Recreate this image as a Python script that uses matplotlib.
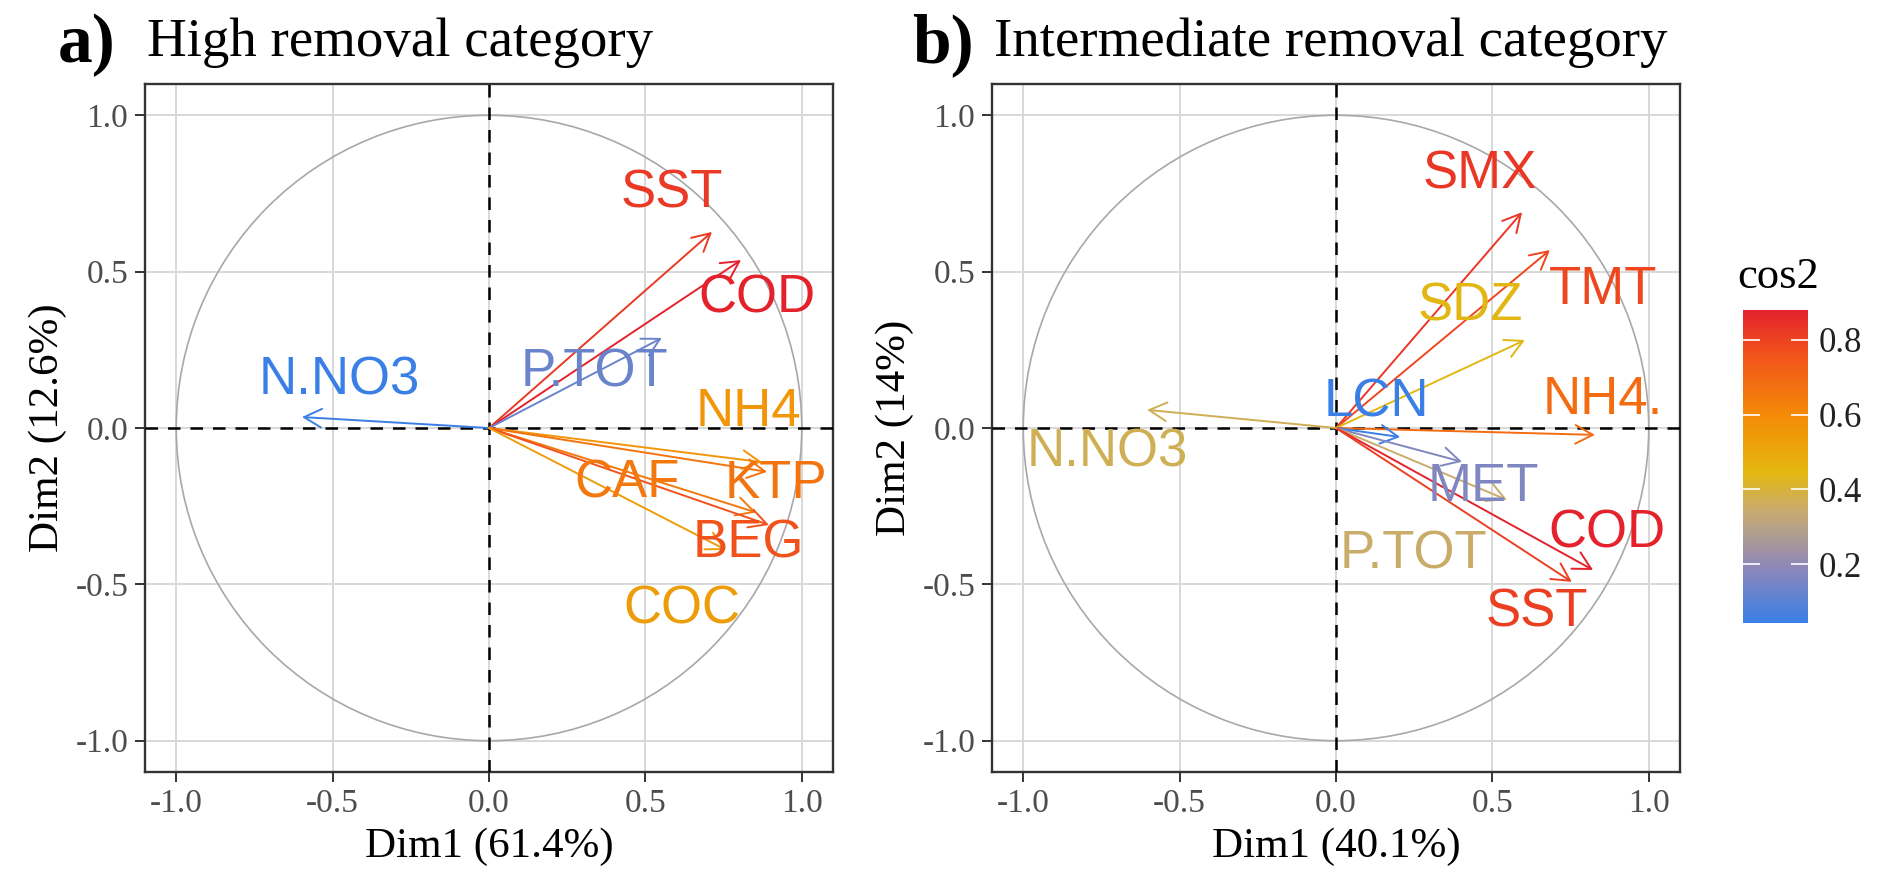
import numpy as np
import matplotlib
matplotlib.use("Agg")
import matplotlib.pyplot as plt
from matplotlib.colors import LinearSegmentedColormap, Normalize
from matplotlib.patches import Circle
import matplotlib.colorbar as mcolorbar

plt.rcParams["axes.unicode_minus"] = False

SERIF = "Liberation Serif"
SANS = "Liberation Sans"

# ---- panel a: high removal category ----
vars_a = ["SST", "COD", "P.TOT", "N.NO3", "NH4", "KTP", "CAF", "BEG", "COC"]
dim1_a = [0.713, 0.806, 0.553, -0.598, 0.873, 0.889, 0.854, 0.895, 0.758]
dim2_a = [0.627, 0.537, 0.288, 0.035, -0.109, -0.140, -0.270, -0.310, -0.390]
cos2_a = [0.90, 0.94, 0.42, 0.36, 0.72, 0.79, 0.78, 0.86, 0.70]

# ---- panel b: intermediate removal category ----
vars_b = ["SMX", "TMT", "SDZ", "NH4.", "LCN", "MET", "P.TOT", "COD", "SST", "N.NO3"]
dim1_b = [0.595, 0.684, 0.604, 0.828, 0.205, 0.403, 0.547, 0.822, 0.754, -0.604]
dim2_b = [0.690, 0.569, 0.281, -0.022, -0.029, -0.108, -0.230, -0.454, -0.492, 0.058]
cos2_b = [0.83, 0.79, 0.44, 0.69, 0.043, 0.17, 0.35, 0.88, 0.81, 0.37]

# label placement (layout only, data units)
label_pos_a = [(0.585, 0.75), (0.857, 0.415), (0.336, 0.176), (-0.48, 0.153),
               (0.83, 0.05), (0.917, -0.18), (0.44, -0.176), (0.83, -0.37),
               (0.617, -0.58)]
label_pos_b = [(0.46, 0.81), (0.854, 0.44), (0.428, 0.387), (0.854, 0.09),
               (0.13, 0.08), (0.47, -0.19), (0.247, -0.406), (0.866, -0.336),
               (0.642, -0.59), (-0.73, -0.077)]

cmap = LinearSegmentedColormap.from_list("cos2", [
    (0.00, "#3A7FE6"),
    (0.18, "#8F88B8"),
    (0.35, "#C6AA74"),
    (0.48, "#E3B810"),
    (0.65, "#F48E06"),
    (0.85, "#F2561A"),
    (1.00, "#E4222C"),
])

W, H = 1894, 881
fig = plt.figure(figsize=(W / 100, H / 100), dpi=100)


def px_box(left, top, right, bottom):
    return [left / W, (H - bottom) / H, (right - left) / W, (bottom - top) / H]


def draw_panel(ax, names, xs, ys, cos2, lpos, xlab, ylab):
    norm = Normalize(vmin=min(cos2), vmax=max(cos2))
    ax.set_xlim(-1.1, 1.1)
    ax.set_ylim(-1.1, 1.1)
    ticks = [-1.0, -0.5, 0.0, 0.5, 1.0]
    ax.set_xticks(ticks)
    ax.set_yticks(ticks)
    ax.set_xticklabels([f"{t:.1f}" for t in ticks])
    ax.set_yticklabels([f"{t:.1f}" for t in ticks])
    ax.grid(True, color="#D8D8D8", lw=1.4)
    ax.set_axisbelow(True)
    for s in ax.spines.values():
        s.set_color("#333333")
        s.set_linewidth(1.7)
    ax.tick_params(length=7, width=1.4, color="#333333", labelcolor="#4D4D4D",
                   labelsize=24, pad=5)
    for lab in ax.get_xticklabels() + ax.get_yticklabels():
        lab.set_family(SERIF)

    ax.add_patch(Circle((0, 0), 1.0, fill=False, ec="#A8A8A8", lw=1.2, zorder=2))
    ax.axhline(0, color="black", lw=1.8, ls=(0, (5, 4)), zorder=3)
    ax.axvline(0, color="black", lw=1.8, ls=(0, (5, 4)), zorder=3)

    for name, x, y, c, (lx, ly) in zip(names, xs, ys, cos2, lpos):
        col = cmap(norm(c))
        ax.annotate("", xy=(x, y), xytext=(0, 0),
                    arrowprops=dict(arrowstyle="->,head_length=0.6,head_width=0.32",
                                    color=col, lw=1.4, mutation_scale=21,
                                    shrinkA=0, shrinkB=0), zorder=4)
        ax.text(lx, ly, name, color=col, fontsize=38, family=SANS,
                ha="center", va="center", zorder=5)

    ax.set_xlabel(xlab, family=SERIF, fontsize=31, labelpad=6)
    ax.set_ylabel(ylab, family=SERIF, fontsize=31, labelpad=6)
    return norm


ax_a = fig.add_axes(px_box(145, 84, 833, 772))
draw_panel(ax_a, vars_a, dim1_a, dim2_a, cos2_a, label_pos_a,
           "Dim1 (61.4%)", "Dim2 (12.6%)")

ax_b = fig.add_axes(px_box(992, 84, 1680, 772))
norm_b = draw_panel(ax_b, vars_b, dim1_b, dim2_b, cos2_b, label_pos_b,
                    "Dim1 (40.1%)", "Dim2 (14%)")

# titles
fig.text(58 / W, 1 - 62 / H, "a)", family=SERIF, weight="bold", fontsize=50)
fig.text(147 / W, 1 - 56 / H, "High removal category", family=SERIF, fontsize=39.5)
fig.text(912 / W, 1 - 62 / H, "b)", family=SERIF, weight="bold", fontsize=50)
fig.text(994 / W, 1 - 56 / H, "Intermediate removal category", family=SERIF, fontsize=39.5)

# colour bar (cos2)
cax = fig.add_axes(px_box(1743, 310, 1808, 623))
cb = mcolorbar.ColorbarBase(cax, cmap=cmap, norm=norm_b, orientation="vertical")
cb.outline.set_visible(False)
cb.set_ticks([0.2, 0.4, 0.6, 0.8])
cax.yaxis.set_ticks_position("both")
cax.yaxis.set_label_position("right")
cax.tick_params(which="both", direction="in", length=12, width=1.2, color="white",
                labelsize=25, labelcolor="#222222", pad=8, labelleft=False, labelright=True)
for lab in cax.get_yticklabels():
    lab.set_family(SERIF)
fig.text(1737 / W, 1 - 288 / H, "cos2", family=SERIF, fontsize=32)

fig.savefig("out.png", dpi=100)
